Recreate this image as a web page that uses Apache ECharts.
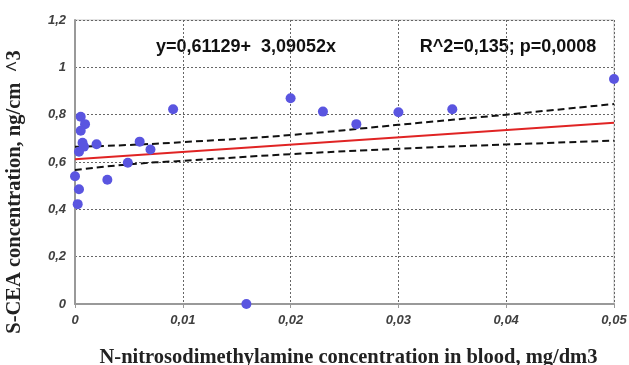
<!DOCTYPE html>
<html><head><meta charset="utf-8">
<script src="https://cdn.jsdelivr.net/npm/echarts@6/dist/echarts.min.js"></script>
<style>html,body{margin:0;padding:0;background:#fff}#c{width:629px;height:365px}</style>
</head><body><div id="c"></div>
<script>
const points = [
  [0.00053,0.791],[0.00093,0.760],[0.00053,0.732],[0.0007,0.681],[0.00083,0.665],
  [0.00037,0.643],[0.002,0.675],[0.006,0.686],[0.007,0.653],[0.0049,0.597],
  [0.0091,0.823],[0.020,0.869],[0.023,0.813],[0.0261,0.760],[0.0,0.540],
  [0.003,0.525],[0.00037,0.485],[0.00025,0.422],[0.0159,0.0],[0.030,0.810],
  [0.035,0.823],[0.050,0.951]
];
const regLine = [[0,0.6113],[0.05,0.7658]];
const bandX = [0,0.005,0.01,0.02,0.03,0.04,0.05];
const upperBand = [0.664,0.672,0.684,0.714,0.757,0.800,0.845];
const lowerBand = [0.566,0.590,0.605,0.633,0.656,0.674,0.690];
const xTicks = [0,0.01,0.02,0.03,0.04,0.05];
const yTicks = [0,0.2,0.4,0.6,0.8,1,1.2];
const equationText = 'y=0,61129+  3,09052x';
const statsText = 'R^2=0,135; p=0,0008';
const xTitle = 'N-nitrosodimethylamine concentration in blood, mg/dm3';
const yTitle = 'S-CEA concentration, ng/cm  ^3';

const fmt = v => String(Math.round(v*1000)/1000).replace('.', ',');
const chart = echarts.init(document.getElementById('c'), null, {renderer:'canvas'});
const labelStyle = {fontFamily:'Liberation Sans, Arial, sans-serif', fontStyle:'italic', fontWeight:'bold', fontSize:13, color:'#404040'};
const dotted = {lineStyle:{type:[2,2], color:'#666', width:1}};
chart.setOption({
  animation:false,
  grid:{left:75, right:15, top:20, bottom:61, show:true, borderColor:'#c8c8c8', borderWidth:1, containLabel:false, outerBoundsMode:'none'},
  xAxis:{type:'value', min:xTicks[0], max:xTicks[xTicks.length-1], interval:0.01,
    axisLine:{show:true, onZero:false, lineStyle:{color:'#999', width:2}},
    axisTick:{show:true, length:4, lineStyle:{color:'#999'}},
    axisLabel:Object.assign({formatter:fmt, margin:10}, labelStyle),
    splitLine:dotted,
    name:xTitle, nameLocation:'middle', nameGap:43,
    nameTextStyle:{fontFamily:'Liberation Serif, Times New Roman, serif', fontWeight:'bold', fontSize:20.5, color:'#222', padding:[0,0,0,8]}
  },
  yAxis:{type:'value', min:yTicks[0], max:yTicks[yTicks.length-1], interval:0.2,
    axisLine:{show:true, onZero:false, lineStyle:{color:'#999', width:2}},
    axisTick:{show:false},
    axisLabel:Object.assign({formatter:fmt, margin:9}, labelStyle),
    splitLine:dotted
  },
  graphic:[
    {type:'text', style:{text:equationText, x:246, y:47, textAlign:'center', textVerticalAlign:'middle', font:'bold 18px Liberation Sans, Arial, sans-serif', fill:'#111'}},
    {type:'text', style:{text:statsText, x:508, y:47, textAlign:'center', textVerticalAlign:'middle', font:'bold 18px Liberation Sans, Arial, sans-serif', fill:'#111'}},
    {type:'text', x:15, y:192, rotation:Math.PI/2, style:{text:yTitle, textAlign:'center', textVerticalAlign:'middle', font:'bold 20.5px Liberation Serif, Times New Roman, serif', fill:'#222'}}
  ],
  series:[
    {type:'line', data:bandX.map((x,i)=>[x,upperBand[i]]), smooth:true, symbol:'none', lineStyle:{color:'#111', width:2, type:[7,4]}, z:3},
    {type:'line', data:bandX.map((x,i)=>[x,lowerBand[i]]), smooth:true, symbol:'none', lineStyle:{color:'#111', width:2, type:[7,4]}, z:3},
    {type:'line', data:regLine, symbol:'none', lineStyle:{color:'#e02424', width:2}, z:4},
    {type:'scatter', data:points, symbolSize:10, itemStyle:{color:'#5a55e0', opacity:1}, z:5, clip:false}
  ]
});
</script></body></html>
